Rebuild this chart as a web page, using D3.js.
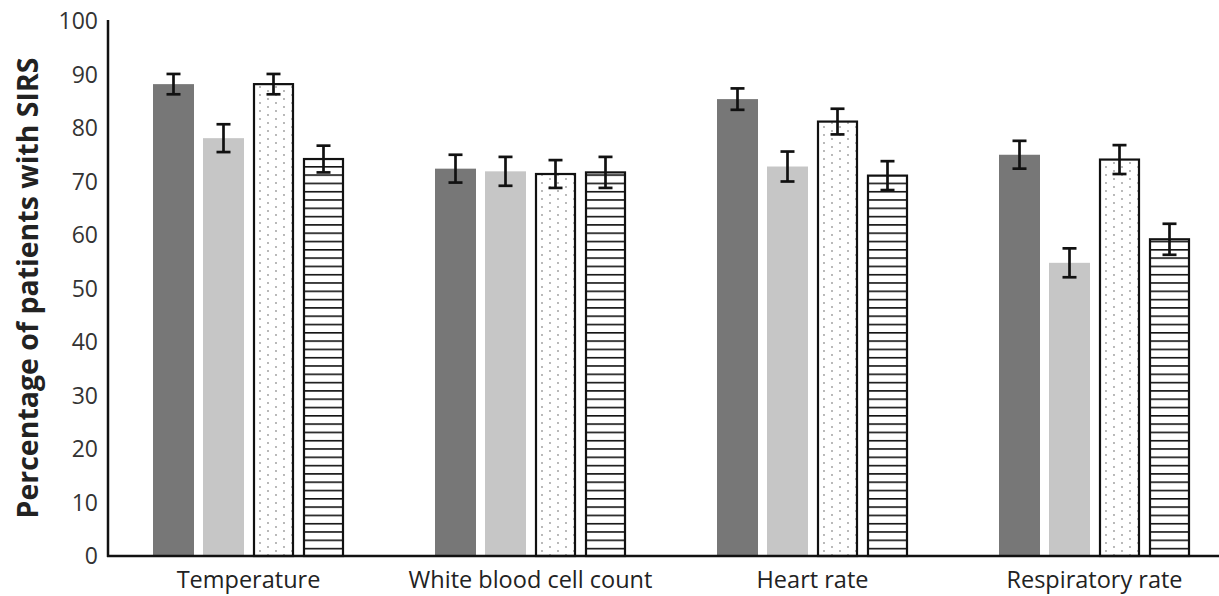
<!DOCTYPE html>
<html><head><meta charset="utf-8">
<script src="https://cdn.jsdelivr.net/npm/d3@7"></script>
<style>body{margin:0;background:#fff;}svg{display:block;font-family:"Open Sans",sans-serif;}</style>
</head><body><svg id="c" width="1219" height="596"></svg>
<script>
const categories = ["Temperature", "White blood cell count", "Heart rate", "Respiratory rate"];
const seriesNames = ["s1", "s2", "s3", "s4"];
const values = [
  [88.2, 78.1, 88.2, 74.2],
  [72.4, 71.9, 71.4, 71.7],
  [85.4, 72.8, 81.2, 71.1],
  [75.0, 54.8, 74.1, 59.2]
];
const errors = [
  [1.9, 2.6, 1.9, 2.5],
  [2.6, 2.7, 2.6, 2.9],
  [2.0, 2.8, 2.4, 2.7],
  [2.6, 2.7, 2.7, 2.9]
];
const yTicks = [0,10,20,30,40,50,60,70,80,90,100];

const svg = d3.select("#c");
const defs = svg.append("defs");
const dots = defs.append("pattern").attr("id","dots").attr("patternUnits","userSpaceOnUse")
  .attr("width",16).attr("height",16);
dots.append("rect").attr("width",16).attr("height",16).attr("fill","#fff");
[[3,3],[11,7],[3,11],[11,15]].forEach(([x,y])=>dots.append("circle").attr("cx",x).attr("cy",y).attr("r",0.9).attr("fill","#999"));
const hatch = defs.append("pattern").attr("id","hatch").attr("patternUnits","userSpaceOnUse")
  .attr("width",10).attr("height",8.3);
hatch.append("rect").attr("width",10).attr("height",8.3).attr("fill","#fff");
hatch.append("rect").attr("y",0).attr("width",10).attr("height",1.6).attr("fill","#111");

const fills = ["#777777","#c6c6c6","url(#dots)","url(#hatch)"];
const strokes = [null,null,"#111","#111"];

const y = d3.scaleLinear().domain([0,100]).range([556,21]);
const x0 = d3.scaleBand().domain(categories).range([109,1237]).paddingInner(0).paddingOuter(0);
const x1 = d3.scaleBand().domain(seriesNames).range([0,191]).paddingInner(0.18).paddingOuter(0);

// y tick labels
svg.append("g").selectAll("text").data(yTicks).join("text")
  .attr("x",98).attr("y",d=>y(d)).attr("dy","0.36em").attr("text-anchor","end")
  .attr("font-size",23).attr("fill","#333").text(d=>d);

// y title
svg.append("text").attr("transform","translate(38,288) rotate(-90)")
  .attr("text-anchor","middle").attr("font-size",28.5).attr("font-weight","bold").attr("fill","#222")
  .text("Percentage of patients with SIRS");

const groupOffset = (x0.bandwidth()-191)/2 - 1.5;
const g = svg.append("g").selectAll("g").data(categories).join("g")
  .attr("transform",d=>`translate(${x0(d)+groupOffset},0)`);

g.each(function(cat,ci){
  const gg = d3.select(this);
  seriesNames.forEach((s,si)=>{
    const v = values[ci][si], e = errors[ci][si];
    const bx = x1(s), bw = x1.bandwidth();
    if(strokes[si]){
      gg.append("rect").attr("x",bx+1).attr("y",y(v)).attr("width",bw-2).attr("height",y(0)-y(v))
        .attr("fill",fills[si]).attr("stroke",strokes[si]).attr("stroke-width",2.2);
    } else {
      gg.append("rect").attr("x",bx).attr("y",y(v)).attr("width",bw).attr("height",y(0)-y(v))
        .attr("fill",fills[si]);
    }
    const cx = bx+bw/2;
    gg.append("line").attr("x1",cx).attr("x2",cx).attr("y1",y(v+e)).attr("y2",y(v-e))
      .attr("stroke","#111").attr("stroke-width",2.7);
    [v+e,v-e].forEach(t=>gg.append("line").attr("x1",cx-7).attr("x2",cx+7).attr("y1",y(t)).attr("y2",y(t))
      .attr("stroke","#111").attr("stroke-width",2.7));
  });
  gg.append("text").attr("x",95.5).attr("y",588).attr("text-anchor","middle")
    .attr("font-size",23.5).attr("fill","#222").text(cat);
});

// axes lines
svg.append("line").attr("x1",108).attr("x2",108).attr("y1",20).attr("y2",557).attr("stroke","#111").attr("stroke-width",2.5);
svg.append("line").attr("x1",107).attr("x2",1219).attr("y1",556).attr("y2",556).attr("stroke","#111").attr("stroke-width",2.5);
</script></body></html>
